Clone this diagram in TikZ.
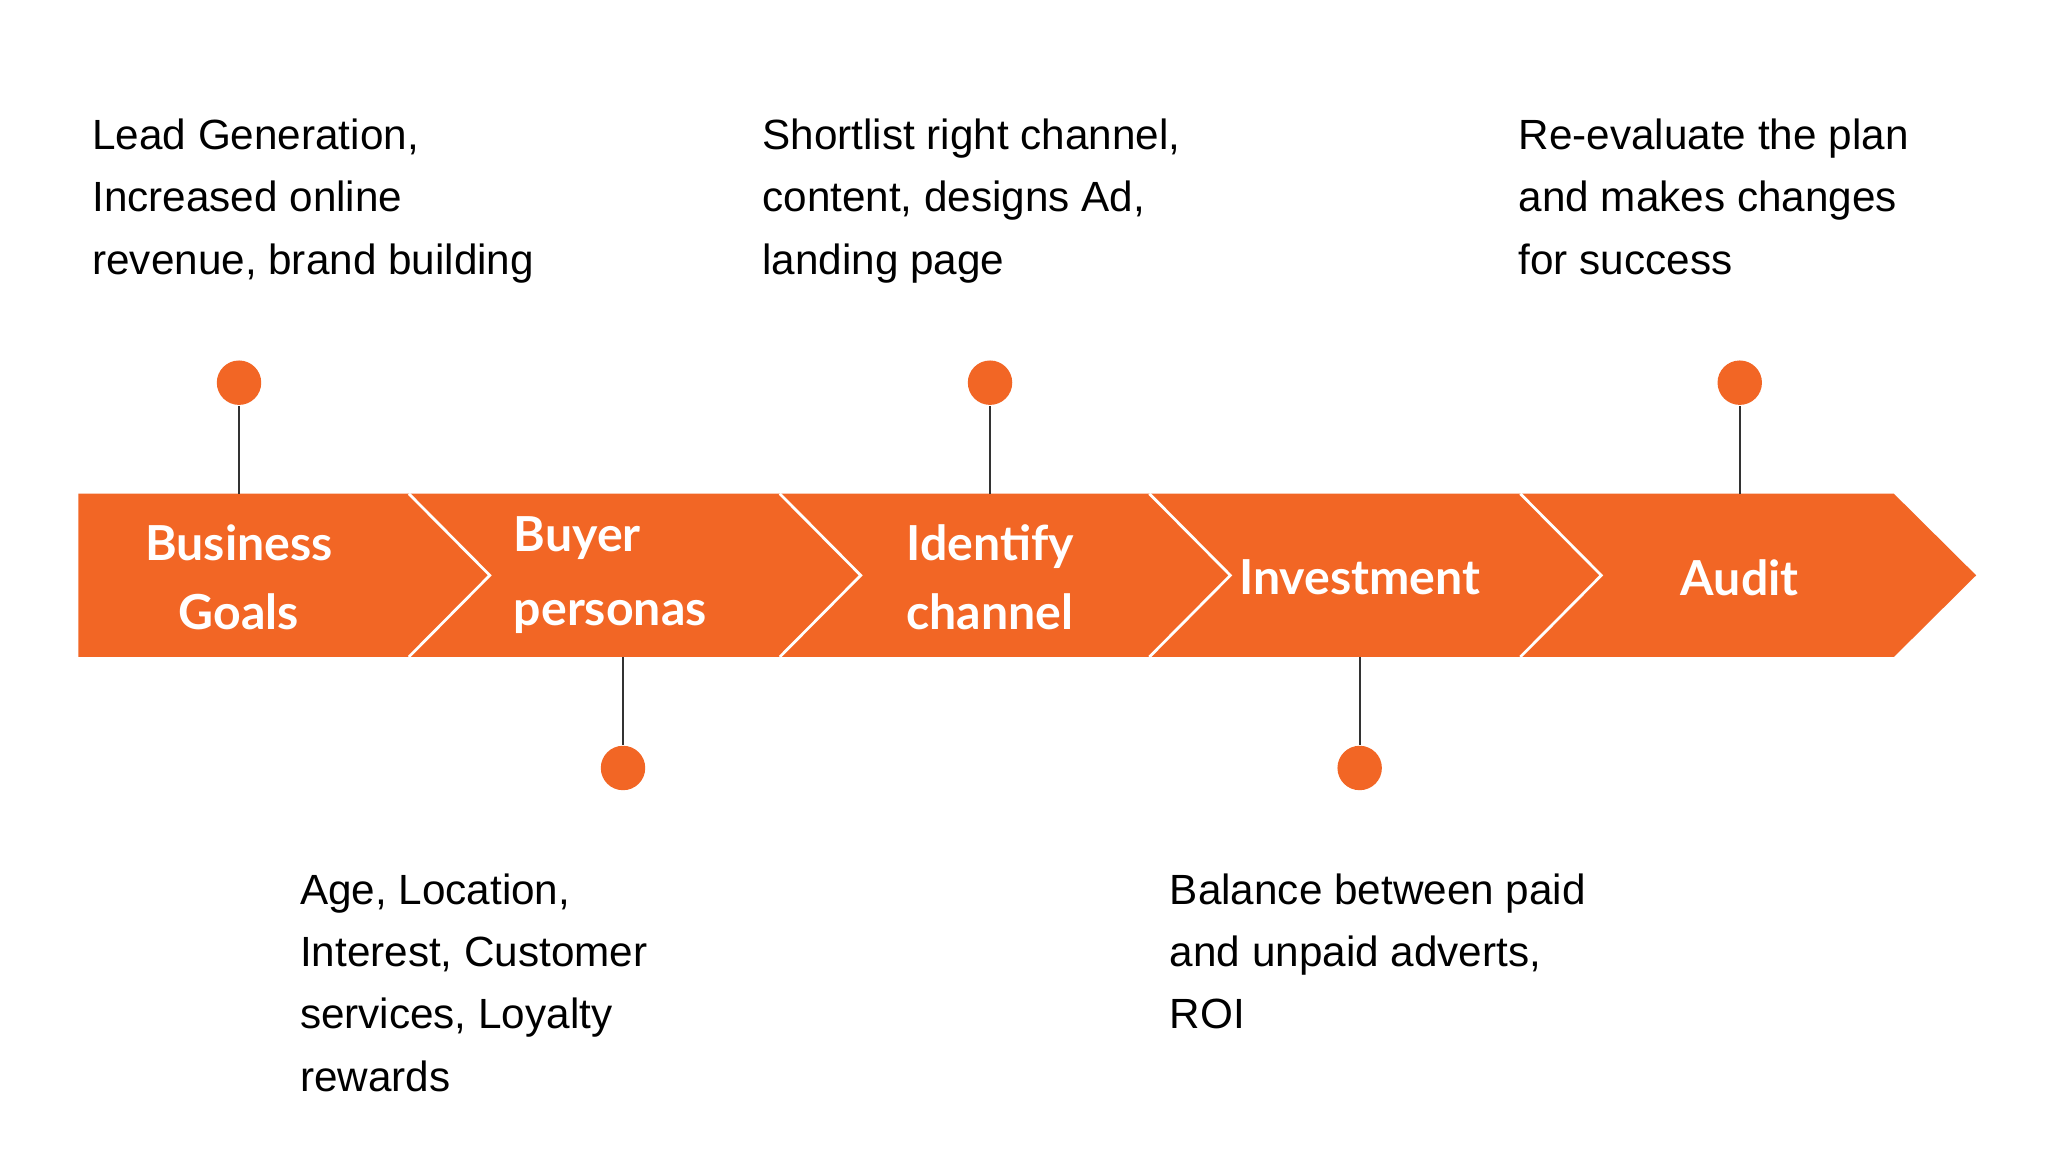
\documentclass[tikz,border=0pt]{standalone}
\usepackage{fontspec}
\setmainfont{Liberation Sans}
\newfontfamily\latob{Lato}
\definecolor{org}{HTML}{F26625}
\begin{document}
\begin{tikzpicture}[x=0.01cm,y=-0.01cm,
  dot/.style={circle,fill=org,minimum size=0.34cm,inner sep=0},
  stem/.style={draw=black!80,line width=0.5pt},
  sep/.style={draw=white,line width=0.6pt},
  lab/.style={font=\latob\bfseries\fontsize{10.5}{15}\selectfont,text=white,align=center},
  desc/.style={font=\fontsize{9.2}{13.6}\selectfont,align=left,anchor=north west,inner sep=0}]
\useasboundingbox (0,0) rectangle (1568,882);
\fill[white] (0,0) rectangle (1568,882);
\fill[org] (60,378) -- (1450,378) -- (1513,440.5) -- (1450,503) -- (60,503) -- cycle;
\foreach \x in {313,597,880,1164}{\draw[sep] (\x,378) -- (\x+62,440.5) -- (\x,503);}
\node[lab] (b1) at (183,442) {Business\\Goals};
\node[lab,anchor=west] (b2a) at (381,412) {Buyer};
\node[lab,anchor=west] (b2b) at (381,472) {personas};
\node[lab] (b3) at (758,442) {Identify\\channel};
\node[lab] (b4) at (1041,442) {Investment};
\node[lab] (b5) at (1332,442) {Audit};
\coordinate (t1) at (183,378); \coordinate (t3) at (758,378); \coordinate (t5) at (1332,378);
\coordinate (u2) at (477,503); \coordinate (u4) at (1041,503);
\node[dot] (d1) at (183,293) {}; \node[dot] (d3) at (758,293) {}; \node[dot] (d5) at (1332,293) {};
\node[dot] (d2) at (477,588) {}; \node[dot] (d4) at (1041,588) {};
\draw[stem] (d1) -- (t1); \draw[stem] (d3) -- (t3); \draw[stem] (d5) -- (t5);
\draw[stem] (d2) -- (u2); \draw[stem] (d4) -- (u4);
\node[desc] (x1) at (70,90) {Lead Generation,\\Increased online\\revenue, brand building};
\node[desc] (x3) at (583,90) {Shortlist right channel,\\content, designs Ad,\\landing page};
\node[desc] (x5) at (1162,90) {Re-evaluate the plan\\and makes changes\\for success};
\node[desc] (x2) at (229,668) {Age, Location,\\Interest, Customer\\services, Loyalty\\rewards};
\node[desc] (x4) at (895,668) {Balance between paid\\and unpaid adverts,\\ROI};
\end{tikzpicture}
\end{document}
